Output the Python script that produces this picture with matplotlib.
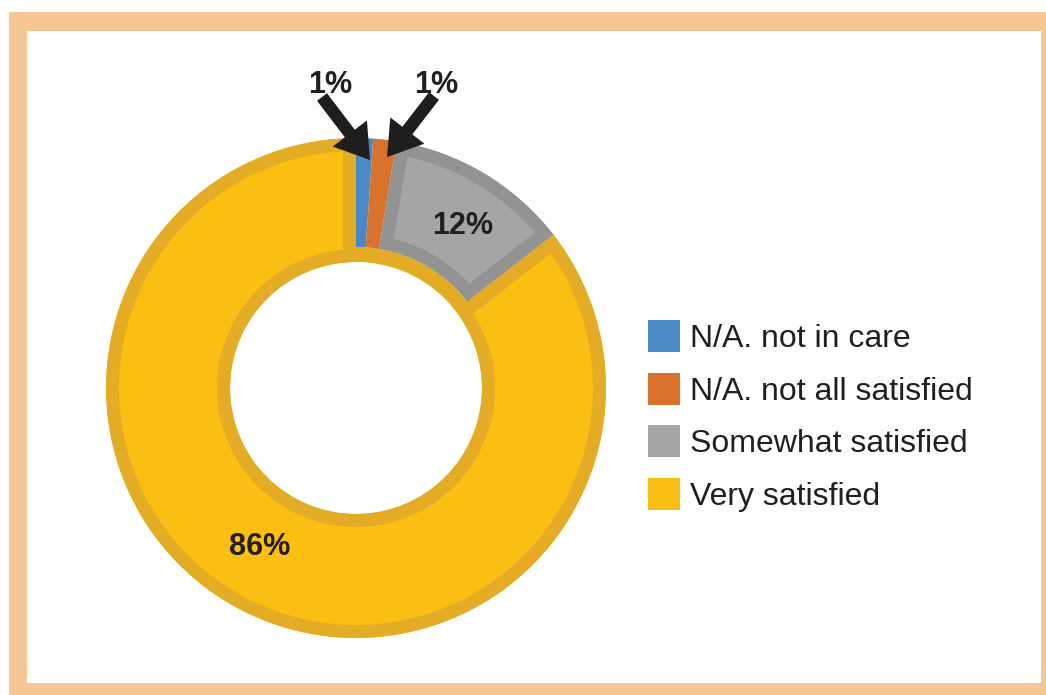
import matplotlib
matplotlib.use("Agg")
import matplotlib.pyplot as plt
from matplotlib.patches import Rectangle, Wedge

# ---- data ----
categories = ["N/A. not in care", "N/A. not all satisfied", "Somewhat satisfied", "Very satisfied"]
values = [1.1, 1.5, 11.9, 85.5]
value_labels = ["1%", "1%", "12%", "86%"]
fill_colors = ["#4a89c3", "#d7712b", "#a5a5a5", "#fbbe13"]
edge_colors = [None, None, "#939393", "#e4ab24"]

W, H = 1046, 695
fig = plt.figure(figsize=(W / 100, H / 100), dpi=100)
ax = fig.add_axes([0, 0, 1, 1])

def py(y):
    return H - y

# frame
ax.add_patch(Rectangle((9, 0), W, py(12), facecolor="#f6c794", edgecolor="none", zorder=0))
ax.add_patch(Rectangle((27, py(683)), 1041 - 27, 683 - 31, facecolor="white", edgecolor="none", zorder=0.5))

cx, cy = 356, py(388)
R = 250
r0 = 126
band = 15
border_px = 13
gold = "#e4ab24"

# inner gold ring under everything
ax.add_patch(Wedge((cx, cy), r0 + band, 0, 360, width=band, facecolor=gold, edgecolor="none", zorder=1))

wedges, _ = ax.pie(values, colors=fill_colors, startangle=90, counterclock=False,
                   radius=R, center=(cx, cy), wedgeprops=dict(width=R - r0, linewidth=0))
for i, w in enumerate(wedges):
    w.set_zorder(2)
    if i < 3:
        w.set_width(R - r0 - band)
    if edge_colors[i] is not None:
        w.set_edgecolor(edge_colors[i])
        w.set_linewidth(2 * border_px * 0.72)
        w.set_joinstyle("miter")
        w.set_clip_on(True)
        w.set_clip_path(w)

txt_color = "#231f20"
font = "Liberation Sans"
label_pos = [(330, 85), (436, 85), (463, 226), (260, 547)]
for lab, (x, y) in zip(value_labels, label_pos):
    ax.text(x, py(y), lab, ha="center", va="center", fontsize=22, fontweight="bold",
            color=txt_color, family=font, zorder=5)

arrows = [((322, 97), (370, 160)), ((434, 96), (387, 157))]
for (tx, ty), (hx, hy) in arrows:
    ax.annotate("", xy=(hx, py(hy)), xytext=(tx, py(ty)),
                arrowprops=dict(arrowstyle="simple,head_length=2.4,head_width=3.1,tail_width=0.9",
                                facecolor="#1e1e1e", edgecolor="none", lw=0, mutation_scale=10,
                                shrinkA=0, shrinkB=0),
                zorder=6)

# legend
for i, (cat, col) in enumerate(zip(categories, fill_colors)):
    yc = 336 + i * 52.7
    ax.add_patch(Rectangle((648, py(yc + 16)), 32, 32, facecolor=col, edgecolor="none", zorder=3))
    ax.text(690, py(yc + 11), cat, ha="left", va="baseline", fontsize=23,
            color=txt_color, family=font, zorder=3)

ax.set_xlim(0, W)
ax.set_ylim(0, H)
ax.set_aspect("auto")
ax.axis("off")
fig.savefig("out.png", dpi=100)
